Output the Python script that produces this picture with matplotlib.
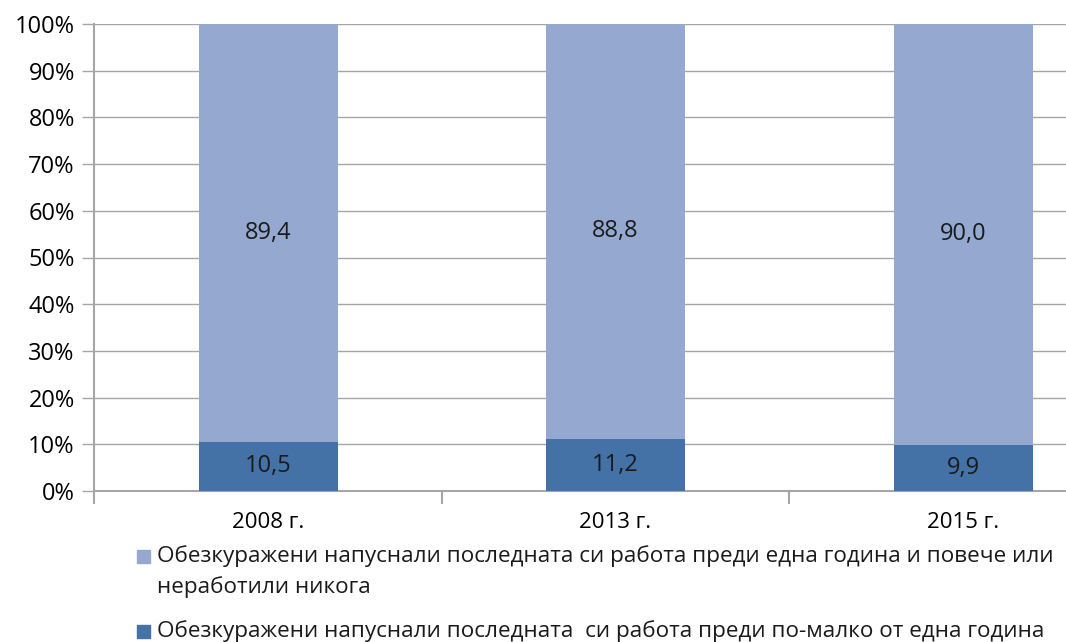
import matplotlib.pyplot as plt
from matplotlib.patches import Rectangle

plt.rcParams['font.family'] = ['Open Sans', 'DejaVu Sans']

years = ['2008 г.', '2013 г.', '2015 г.']
less_than_year = [10.5, 11.2, 9.9]
year_or_more = [89.4, 88.8, 90.0]
series_names = [
    'Обезкуражени напуснали последната си работа преди една година и повече или\nнеработили никога',
    'Обезкуражени напуснали последната  си работа преди по-малко от една година',
]

light = '#95a9d0'
dark = '#4472a6'
grid_col = '#a6a6a6'

totals = [a + b for a, b in zip(less_than_year, year_or_more)]
low_pct = [a / t * 100 for a, t in zip(less_than_year, totals)]
high_pct = [b / t * 100 for b, t in zip(year_or_more, totals)]

W, H = 1066, 642
fig = plt.figure(figsize=(W / 100, H / 100), dpi=100)
# the plot area runs past the right edge of the picture, as in the source
ax = fig.add_axes([94.25 / W, 1 - 491 / H, 1042.5 / W, 467 / H])

x = range(len(years))
b1 = ax.bar(x, low_pct, width=0.4, color=dark, zorder=3)
b2 = ax.bar(x, high_pct, width=0.4, bottom=low_pct, color=light, zorder=3)

fmt = lambda v: f'{v:.1f}'.replace('.', ',')
ax.bar_label(b1, labels=[fmt(v) for v in less_than_year], label_type='center', fontsize=17, color='#1a1a1a')
ax.bar_label(b2, labels=[fmt(v) for v in year_or_more], label_type='center', fontsize=17, color='#1a1a1a')

ax.set_xlim(-0.5, 2.5)
ax.set_ylim(0, 100)
ax.set_yticks(range(0, 101, 10))
ax.set_yticklabels([f'{v}%' for v in range(0, 101, 10)])
ax.yaxis.grid(True, color=grid_col, linewidth=1, zorder=0)
ax.set_xticks(list(x))
ax.set_xticklabels(years)
ax.set_xticks([-0.5, 0.5, 1.5, 2.5], minor=True)
ax.tick_params(axis='x', which='major', length=0, pad=15, labelsize=16)
ax.tick_params(axis='x', which='minor', length=9, color=grid_col, width=1.5)
ax.tick_params(axis='y', length=9, color=grid_col, width=1, labelsize=17, pad=5)
for s in ['top', 'right']:
    ax.spines[s].set_visible(False)
for s in ['left', 'bottom']:
    ax.spines[s].set_color(grid_col)
    ax.spines[s].set_linewidth(1.5)

# legend drawn by hand so the square sits by the first line of text
for name, col, ytop in [(series_names[0], light, 545), (series_names[1], dark, 620)]:
    fig.patches.append(Rectangle((137 / W, 1 - (ytop + 18) / H), 13 / W, 13 / H,
                                 transform=fig.transFigure, color=col))
    fig.text(157 / W, 1 - ytop / H, name, fontsize=16.2, va='top', ha='left',
             linespacing=1.55, color='#1a1a1a')

fig.savefig('out.png', dpi=100)
